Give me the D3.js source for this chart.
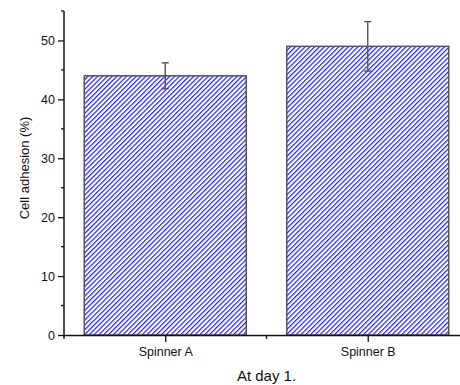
<!DOCTYPE html>
<html>
<head>
<meta charset="utf-8">
<script src="https://cdn.jsdelivr.net/npm/d3@7"></script>
<style>
  html, body { margin: 0; padding: 0; background: #fff; }
  svg { display: block; }
  text { font-family: "Liberation Sans", Arial, sans-serif; fill: #111; }
</style>
</head>
<body>
<svg id="chart" width="460" height="385"></svg>
<script>
// Data
const categories = ["Spinner A", "Spinner B"];
const positions = [1, 2];
const means = [44.0, 49.0];
const errors = [2.2, 4.2];
const yMajorTicks = [0, 10, 20, 30, 40, 50];
const yMinorTicks = [5, 15, 25, 35, 45, 55];
const xMinorTicks = [0.5, 1.5, 2.5];
const yLabel = "Cell adhesion (%)";
const xTitle = "At day 1.";

const svg = d3.select("#chart");

const x = d3.scaleLinear().domain([0.5, 2.5]).range([64, 469]);
const y = d3.scaleLinear().domain([0, 55]).range([335, 11]);
const barWidth = 0.8;

// Diagonal hatch fill
const defs = svg.append("defs");
const pat = defs.append("pattern")
  .attr("id", "hatch")
  .attr("patternUnits", "userSpaceOnUse")
  .attr("width", 3.4)
  .attr("height", 3.4)
  .attr("patternTransform", "rotate(45)");
pat.append("rect").attr("width", 3.4).attr("height", 3.4).attr("fill", "#fff");
pat.append("line")
  .attr("x1", 0).attr("y1", 0).attr("x2", 0).attr("y2", 3.4)
  .attr("stroke", "#1f1ff2").attr("stroke-width", 2.4);

// Bars
svg.append("g").selectAll("rect")
  .data(positions)
  .join("rect")
  .attr("x", (d) => x(d - barWidth / 2))
  .attr("width", (d) => x(d + barWidth / 2) - x(d - barWidth / 2))
  .attr("y", (d, i) => y(means[i]))
  .attr("height", (d, i) => y(0) - y(means[i]))
  .attr("fill", "url(#hatch)")
  .attr("stroke", "#555")
  .attr("stroke-width", 1.5);

// Error bars
const eg = svg.append("g").attr("stroke", "#555").attr("stroke-width", 1.4).attr("fill", "none");
positions.forEach((p, i) => {
  const cx = x(p);
  const top = y(means[i] + errors[i]);
  const bot = y(means[i] - errors[i]);
  eg.append("line").attr("x1", cx).attr("x2", cx).attr("y1", top).attr("y2", bot);
  eg.append("line").attr("x1", cx - 3.5).attr("x2", cx + 3.5).attr("y1", top).attr("y2", top);
  eg.append("line").attr("x1", cx - 3.5).attr("x2", cx + 3.5).attr("y1", bot).attr("y2", bot);
});

// Y axis
const yAxis = svg.append("g").attr("transform", `translate(${x(0.5)},0)`);
yAxis.call(d3.axisLeft(y).tickValues(yMajorTicks).tickSize(6).tickPadding(3).tickSizeOuter(0));
yAxis.append("g").selectAll("line")
  .data(yMinorTicks)
  .join("line")
  .attr("x1", -3).attr("x2", 0)
  .attr("y1", (d) => y(d)).attr("y2", (d) => y(d))
  .attr("stroke", "#111").attr("stroke-width", 1.3);
yAxis.select(".domain").attr("d", `M0,${y(55)}V${y(0) + 2}`);

// X axis
const xAxis = svg.append("g").attr("transform", `translate(0,${y(0)})`);
xAxis.call(d3.axisBottom(x).tickValues(positions).tickFormat((d, i) => categories[i]).tickSize(7).tickPadding(5).tickSizeOuter(0));
xAxis.append("g").selectAll("line")
  .data(xMinorTicks)
  .join("line")
  .attr("x1", (d) => x(d)).attr("x2", (d) => x(d))
  .attr("y1", 0).attr("y2", 4)
  .attr("stroke", "#111").attr("stroke-width", 1.3);

svg.selectAll(".domain").attr("stroke", "#111").attr("stroke-width", 1.5);
svg.selectAll(".tick line").attr("stroke", "#111").attr("stroke-width", 1.3);
svg.selectAll(".tick text").attr("font-size", "12.5px").attr("fill", "#111")
  .style("font-family", "'Liberation Sans', Arial, sans-serif");

// Axis titles
svg.append("text")
  .attr("transform", `translate(29,168) rotate(-90)`)
  .attr("text-anchor", "middle")
  .attr("font-size", "13px")
  .text(yLabel);

svg.append("text")
  .attr("x", 266.5)
  .attr("y", 381)
  .attr("text-anchor", "middle")
  .attr("font-size", "15px")
  .text(xTitle);
</script>
</body>
</html>
